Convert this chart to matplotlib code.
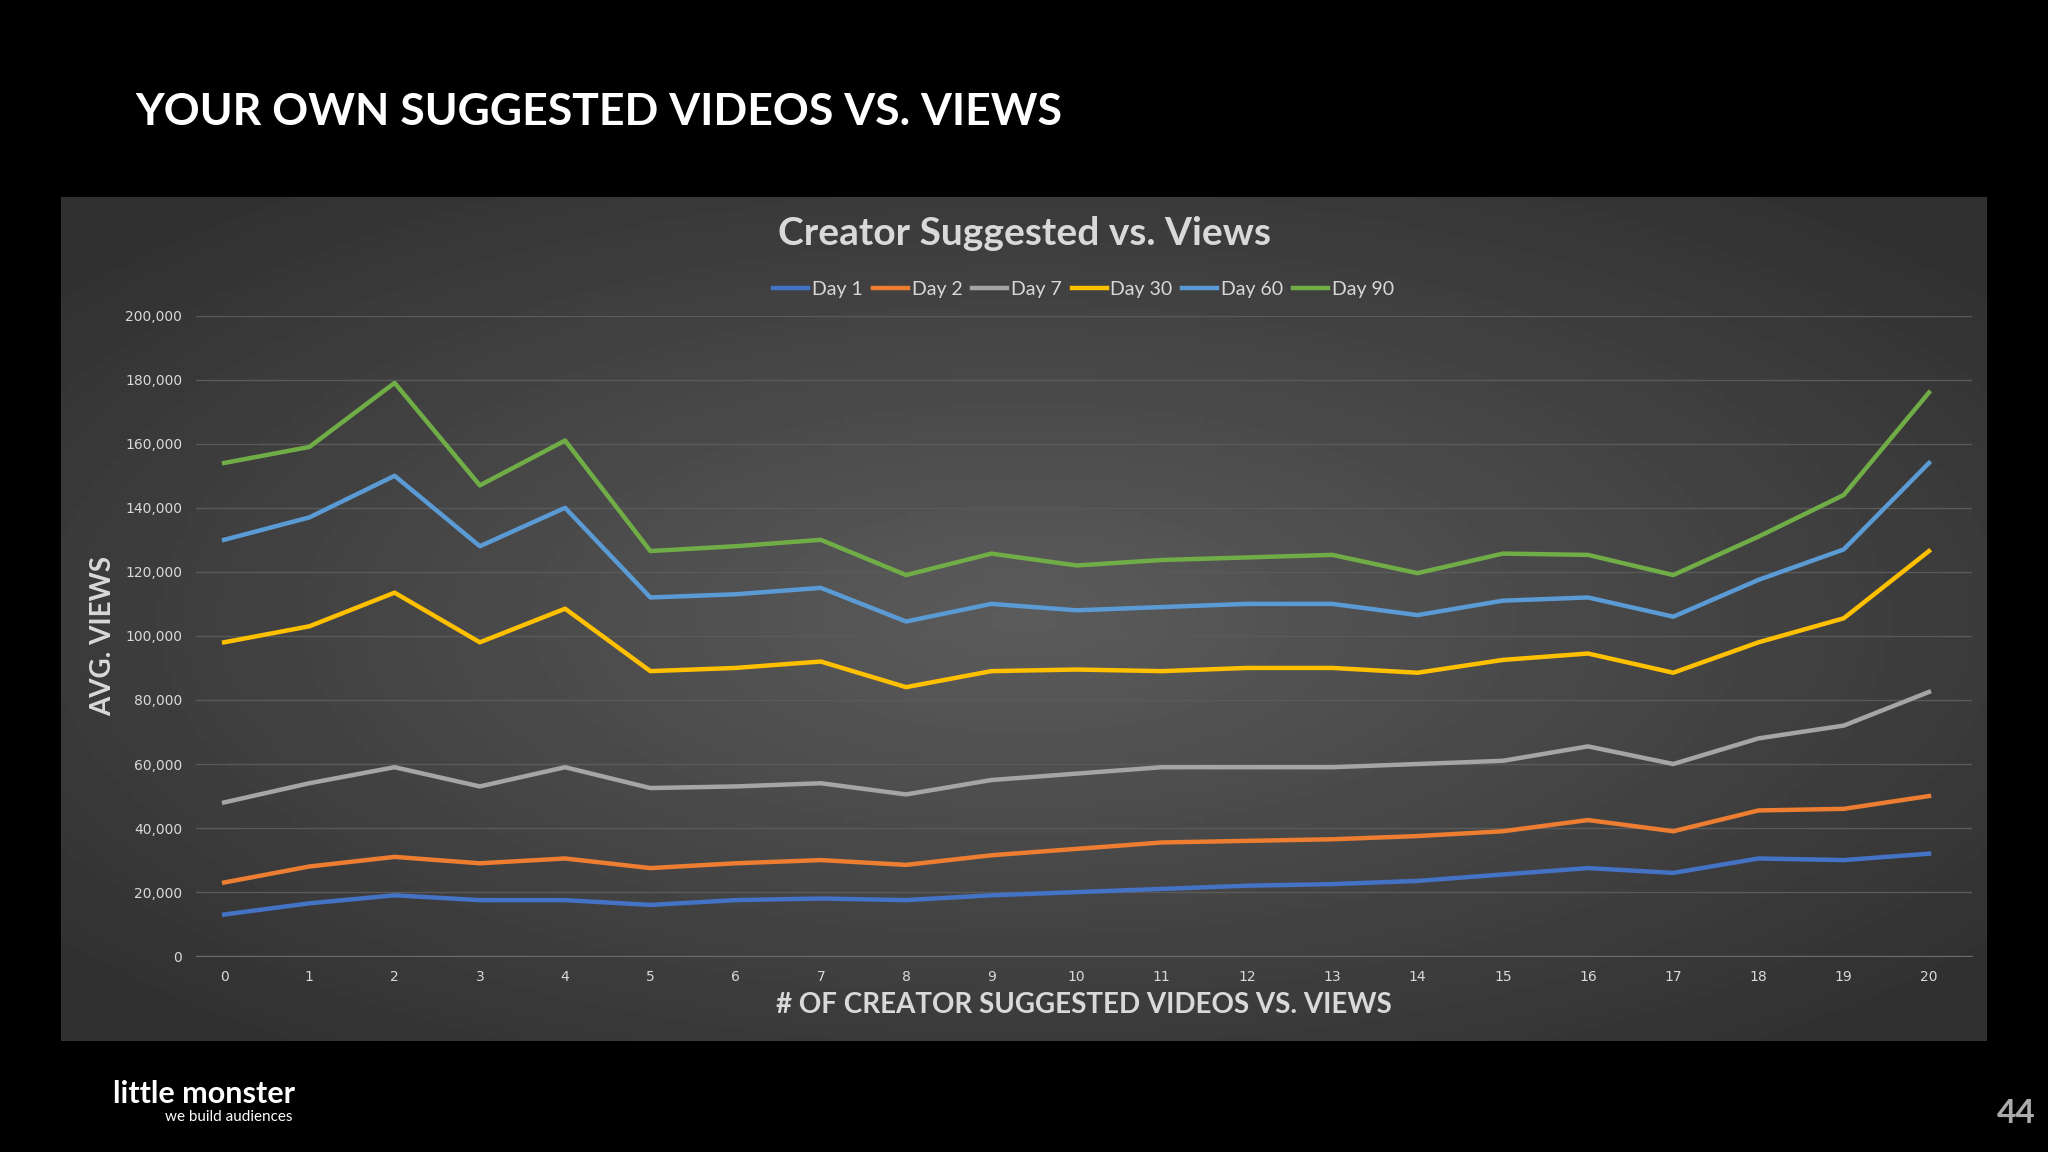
import numpy as np
import matplotlib.pyplot as plt
from matplotlib.ticker import FuncFormatter

x = list(range(21))
day1 = [13, 16.5, 19, 17.5, 17.5, 16, 17.5, 18, 17.5, 19, 20, 21, 22, 22.5, 23.5, 25.5, 27.5, 26, 30.5, 30, 32]
day2 = [23, 28, 31, 29, 30.5, 27.5, 29, 30, 28.5, 31.5, 33.5, 35.5, 36, 36.5, 37.5, 39, 42.5, 39, 45.5, 46, 50]
day7 = [48, 54, 59, 53, 59, 52.5, 53, 54, 50.5, 55, 57, 59, 59, 59, 60, 61, 65.5, 60, 68, 72, 82.5]
day30 = [98, 103, 113.5, 98, 108.5, 89, 90, 92, 84, 89, 89.5, 89, 90, 90, 88.5, 92.5, 94.5, 88.5, 98, 105.5, 126.5]
day60 = [130, 137, 150, 128, 140, 112, 113, 115, 104.5, 110, 108, 109, 110, 110, 106.5, 111, 112, 106, 117.5, 127, 154]
day90 = [154, 159, 179, 147, 161, 126.5, 128, 130, 119, 125.7, 122, 123.7, 124.5, 125.3, 119.6, 125.7, 125.3, 119, 131, 144, 176]
series = [("Day 1", day1, "#4472C4"), ("Day 2", day2, "#ED7D31"), ("Day 7", day7, "#A5A5A5"),
          ("Day 30", day30, "#FFC000"), ("Day 60", day60, "#5B9BD5"), ("Day 90", day90, "#70AD47")]

fig = plt.figure(figsize=(20.48, 11.52), dpi=100, facecolor="black")

# gradient panel
bg = fig.add_axes([0.030, 0.0964, 0.940, 0.7326])
yy, xx = np.mgrid[-1:1:200j, -1:1:300j]
r = np.sqrt(xx**2 + yy**2)
bg.imshow(0.36 - 0.17 * np.clip(r / 1.3, 0, 1), cmap="gray", vmin=0, vmax=1, aspect="auto")
bg.axis("off")

ax = fig.add_axes([0.0957, 0.170, 0.867, 0.556])
ax.patch.set_alpha(0)
for name, vals, c in series:
    ax.plot(x, [v * 1000 for v in vals], color=c, lw=3.2, label=name)
ax.set_xlim(-0.33, 20.5)
ax.set_ylim(0, 200000)
ax.set_xticks(x)
ax.set_yticks(range(0, 200001, 20000))
ax.yaxis.set_major_formatter(FuncFormatter(lambda v, p: f"{int(v):,}"))
ax.grid(axis="y", color="#5a5a5a", lw=1)
for s in ax.spines.values():
    s.set_visible(False)
ax.spines["bottom"].set_visible(True)
ax.spines["bottom"].set_color("#6a6a6a")
ax.tick_params(colors="#d9d9d9", labelsize=10, length=0, pad=10)
ax.set_ylabel("AVG. VIEWS", color="#d9d9d9", fontsize=20, fontweight="bold", family="Lato", labelpad=6)
ax.set_xlabel("# OF CREATOR SUGGESTED VIDEOS VS. VIEWS", color="#d9d9d9", fontsize=20,
              fontweight="bold", family="Lato", labelpad=6)
leg = ax.legend(loc="lower center", bbox_to_anchor=(0.5, 1.0), ncol=6, frameon=False,
                prop={"family": "Lato", "size": 14}, labelcolor="#d9d9d9", handlelength=1.8,
                columnspacing=0.5, handletextpad=0.2)

fig.text(0.5, 0.797, "Creator Suggested vs. Views", ha="center", va="center", color="#d9d9d9",
         fontsize=28, fontweight="bold", family="Lato")
fig.text(0.066, 0.903, "YOUR OWN SUGGESTED VIDEOS VS. VIEWS", ha="left", va="center", color="white",
         fontsize=32, fontweight="bold", family="Lato")
fig.text(0.055, 0.050, "little monster", ha="left", va="center", color="white", fontsize=22,
         fontweight="bold", family="Lato")
fig.text(0.143, 0.030, "we build audiences", ha="right", va="center", color="white", fontsize=11, family="Lato")
fig.text(0.994, 0.033, "44", ha="right", va="center", color="#aaaaaa", fontsize=24, fontweight="bold", family="Lato")

fig.savefig("out.png", facecolor="black")
